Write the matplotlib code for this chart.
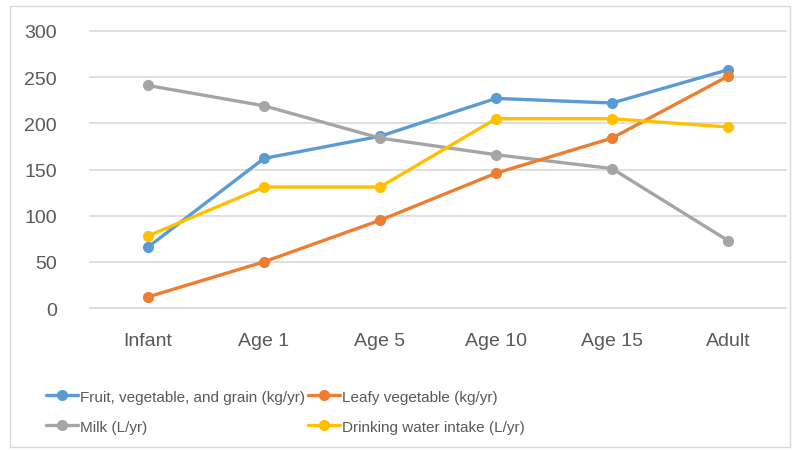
import matplotlib.pyplot as plt
from matplotlib.patches import Rectangle

plt.rcParams["font.family"] = ["Liberation Sans Narrow", "Liberation Sans", "DejaVu Sans"]

# data
categories = ["Infant", "Age 1", "Age 5", "Age 10", "Age 15", "Adult"]
fruit_veg_grain = [66, 162, 186, 227, 222, 258]
leafy_veg = [12, 50, 95, 146, 184, 251]
milk = [241, 219, 184, 166, 151, 73]
drinking_water = [78, 131, 131, 205, 205, 196]
y_ticks = [0, 50, 100, 150, 200, 250, 300]

series = [
    ("Fruit, vegetable, and grain (kg/yr)", fruit_veg_grain, "#5B9BD5"),
    ("Milk (L/yr)", milk, "#A5A5A5"),
    ("Leafy vegetable (kg/yr)", leafy_veg, "#ED7D31"),
    ("Drinking water intake (L/yr)", drinking_water, "#FFC000"),
]

W, H = 793, 452
fig = plt.figure(figsize=(W / 100, H / 100), dpi=100)
ax = fig.add_axes([90 / W, (H - 309) / H, (786 - 90) / W, (309 - 32) / H])

x = list(range(len(categories)))
handles = []
for label, vals, color in series:
    (ln,) = ax.plot(x, vals, color=color, lw=2.4, marker="o", ms=7,
                    label=label, solid_capstyle="round", zorder=3)
    handles.append(ln)

ax.set_xlim(-0.5, len(categories) - 0.5)
ax.set_ylim(0, 300)
ax.set_yticks(y_ticks)
ax.set_xticks(x)
ax.set_xticklabels(categories)
ax.grid(axis="y", color="#D9D9D9", lw=1.2)
for gl in ax.get_ygridlines():
    gl.set_clip_on(False)
ax.set_axisbelow(True)
for s in ax.spines.values():
    s.set_visible(False)
ax.tick_params(axis="both", length=0, labelsize=14, colors="#595959")
ax.tick_params(axis="y", pad=24)
ax.tick_params(axis="x", pad=17)

fig.legend(handles=handles, ncol=2, loc="upper left",
           bbox_to_anchor=(38 / W, 1 - 383 / H), frameon=False,
           fontsize=11, handlelength=2.1, handletextpad=0.15,
           columnspacing=0.2, labelspacing=1.05, borderpad=0,
           labelcolor="#595959")

fig.patches.append(Rectangle((10 / W, 4 / H), 780 / W, 441 / H,
                             transform=fig.transFigure, fill=False,
                             edgecolor="#D9D9D9", lw=1))

fig.savefig("out.png", dpi=100)
